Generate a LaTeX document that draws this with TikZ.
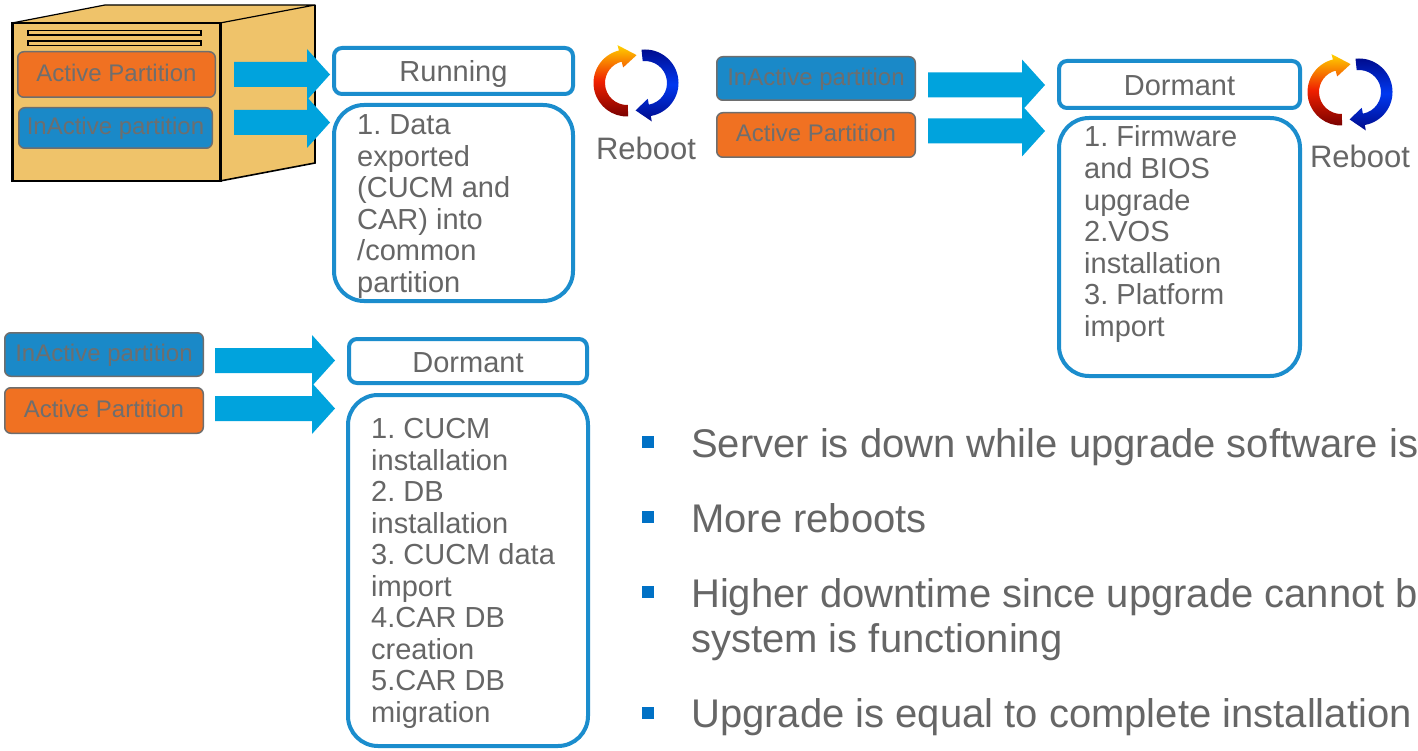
\documentclass[tikz,border=0pt]{standalone}
\usepackage{fontspec}
\setmainfont{Liberation Sans}
\usetikzlibrary{calc}
\frenchspacing

\definecolor{txtgray}{HTML}{666666}
\definecolor{partgray}{HTML}{6E6E6E}
\definecolor{orangep}{HTML}{F07122}
\definecolor{bluep}{HTML}{1A89C8}
\definecolor{boxblue}{HTML}{1B8DCD}
\definecolor{arrowcyan}{HTML}{00A3DD}
\definecolor{serverfill}{HTML}{EFC36A}
\definecolor{bulletblue}{HTML}{0071C5}
\definecolor{rbyellow}{HTML}{FFD200}
\definecolor{rbred}{HTML}{F02000}
\definecolor{rbdark}{HTML}{780000}
\definecolor{rbnavy}{HTML}{000A8A}
\definecolor{rbblue}{HTML}{0038F0}

% wide block arrow from #1 to #2 (both on the same horizontal line)
\newcommand\blockarrow[2]{%
  \fill[arrowcyan] ($(#1)+(0,-12.5)$) -- ($(#2)+(-23,-12.5)$) -- ($(#2)+(-23,-25.5)$)
    -- (#2) -- ($(#2)+(-23,25.5)$) -- ($(#2)+(-23,12.5)$) -- ($(#1)+(0,12.5)$) -- cycle;}

\tikzset{
  part/.style={draw=partgray, line width=1.5pt, rounded corners=6pt, inner sep=0pt,
    text height=13.4pt, text depth=0pt,
    text=partgray, font=\fontsize{24}{28}\selectfont},
  activep/.style={part, fill=orangep},
  inactivep/.style={part, fill=bluep},
  hdrbox/.style={draw=boxblue, line width=4pt, rounded corners=8pt, fill=white, inner sep=0pt,
    text height=22pt, text depth=0pt,
    text=txtgray, font=\fontsize{29}{33}\selectfont},
  stepsbox/.style={draw=boxblue, line width=4pt, rounded corners=30pt, inner sep=0pt},
  steptext/.style={anchor=base west, inner sep=0pt, text=txtgray, font=\fontsize{29}{33}\selectfont},
  rebootlabel/.style={anchor=base, inner sep=0pt, text=txtgray, font=\fontsize{31}{36}\selectfont},
  bullettext/.style={anchor=base west, inner sep=0pt, text=txtgray, font=\fontsize{40}{45}\selectfont},
  reboot/.pic={
    % warm half: runs up the left side, arrowhead at the top pointing right
    \shade[shift={(-9,0)}, top color=rbyellow, bottom color=rbdark, middle color=rbred]
      (-104:33.5) arc[start angle=-104, end angle=-272, radius=33.5]
      -- (-272:22) arc[start angle=-272, end angle=-104, radius=22]
      -- (-104:16) -- (-71:29.5) -- (-104:39) -- cycle;
    % cool half: runs down the right side, arrowhead at the bottom pointing left
    \shade[shift={(9,0)}, top color=rbnavy, bottom color=rbnavy, middle color=rbblue]
      (-96:33.5) arc[start angle=-96, end angle=80, radius=33.5]
      -- (80:39) -- (109:29) -- (80:16) -- (80:22)
      arc[start angle=80, end angle=-96, radius=22] -- cycle;
  }
}

\begin{document}
\begin{tikzpicture}[x=1pt,y=-1pt]
\useasboundingbox (0,0) rectangle (1418,751);
\clip (0,0) rectangle (1418,751);
\fill[white] (0,0) rectangle (1418,751);

% ---- server cabinet ----
\fill[serverfill] (12,23) -- (105,5) -- (315,5) -- (315,163) -- (220,181) -- (12,181) -- cycle;
\draw[line width=1.2pt, line join=round] (12,23) -- (105,5) -- (315,5) -- (220,23);
\draw[line width=1.2pt] (12,23) -- (220,23);
\draw[line width=1.6pt] (315,5) -- (315,163) -- (220,181) -- (12,181);
\draw[line width=3pt] (12,22) -- (12,182);
\draw[line width=3pt] (220,22) -- (220,182);
\draw[line width=1.2pt] (28,30.5) rectangle (201,35);
\draw[line width=1.2pt] (28,41) rectangle (201,45.5);
\draw[line width=2.5pt] (28,30) -- (28,35.5) (201,30) -- (201,35.5) (28,40.5) -- (28,46) (201,40.5) -- (201,46);

% ---- partitions ----
\node[activep, minimum width=197.5, minimum height=45.5] (srvact) at (116.5,74.5) {Active Partition};
\node[inactivep, minimum width=193.5, minimum height=40.5] (srvinact) at (115.5,128) {InActive partition};
\node[inactivep, minimum width=198.5, minimum height=43.5] (midinact) at (816,78.5) {InActive partition};
\node[activep, minimum width=198.5, minimum height=44.5] (midact) at (816,135) {Active Partition};
\node[inactivep, minimum width=198.5, minimum height=43.5] (botinact) at (104,354.5) {InActive partition};
\node[activep, minimum width=198.5, minimum height=45.5] (botact) at (104,410.5) {Active Partition};

% ---- state headers ----
\node[hdrbox, minimum width=239, minimum height=46] (run) at (453.5,71) {Running};
\node[hdrbox, minimum width=241, minimum height=47] (dorm1) at (1179.5,84.5) {Dormant};
\node[hdrbox, minimum width=238, minimum height=44] (dorm2) at (468,361) {Dormant};

% ---- step lists ----
\node[stepsbox, minimum width=239, minimum height=196] (data) at (453.5,203) {};
\node[stepsbox, minimum width=241, minimum height=258] (steps1) at (1179.5,247) {};
\node[stepsbox, minimum width=240, minimum height=351] (steps2) at (468,570.5) {};

\foreach \ln [count=\i] in {{1. Data},{exported},{(CUCM and},{CAR) into},{/common},{partition}}
  \node[steptext] (dt\i) at (357,{134.5+31.6*(\i-1)}) {\ln};
\foreach \ln [count=\i] in {{1. Firmware},{and BIOS},{upgrade},{2.VOS},{installation},{3. Platform},{import}}
  \node[steptext] (ft\i) at (1084,{147+31.6*(\i-1)}) {\ln};
\foreach \ln [count=\i] in {{1. CUCM},{installation},{2. DB},{installation},{3. CUCM data},{import},{4.CAR DB},{creation},{5.CAR DB},{migration}}
  \node[steptext] (ct\i) at (371,{438.5+31.5*(\i-1)}) {\ln};

% ---- block arrows ----
\coordinate (sa1) at ($(srvact.east)+(18,0)$);
\coordinate (ta1) at ($(run.west |- sa1)+(-2,0)$);
\coordinate (sa2) at ($(srvinact.east)+(21,-5.5)$);
\coordinate (ta2) at ($(data.west |- sa2)+(-2,0)$);
\coordinate (ma1) at ($(midinact.east)+(12,6.5)$);
\coordinate (tm1) at ($(dorm1.west |- ma1)+(-12,0)$);
\coordinate (ma2) at ($(midact.east)+(12,-4)$);
\coordinate (tm2) at ($(steps1.west |- ma2)+(-12,0)$);
\coordinate (ba1) at ($(botinact.east)+(11,6)$);
\coordinate (tb1) at ($(dorm2.west |- ba1)+(-12,0)$);
\coordinate (ba2) at ($(botact.east)+(11,-2)$);
\coordinate (tb2) at ($(steps2.west |- ba2)+(-11,0)$);
\blockarrow{sa1}{ta1}
\blockarrow{sa2}{ta2}
\blockarrow{ma1}{tm1}
\blockarrow{ma2}{tm2}
\blockarrow{ba1}{tb1}
\blockarrow{ba2}{tb2}

% ---- reboot icons ----
\pic at (636,83) {reboot};
\node[rebootlabel] (rb1) at (646,160) {Reboot};
\pic at (1350,92) {reboot};
\node[rebootlabel] (rb2) at (1360,168) {Reboot};

% ---- notes ----
\foreach \y in {442,517,592,713}
  \fill[bulletblue] (642,\y-6) rectangle (654,\y+6);
\node[bullettext] (n1) at (691,457) {Server is down while upgrade software is};
\node[bullettext] (n2) at (691,532) {More reboots};
\node[bullettext] (n3) at (691,607) {Higher downtime since upgrade cannot be};
\node[bullettext] (n3b) at (691,652) {system is functioning};
\node[bullettext] (n4) at (691,727) {Upgrade is equal to complete installation};
\end{tikzpicture}
\end{document}
